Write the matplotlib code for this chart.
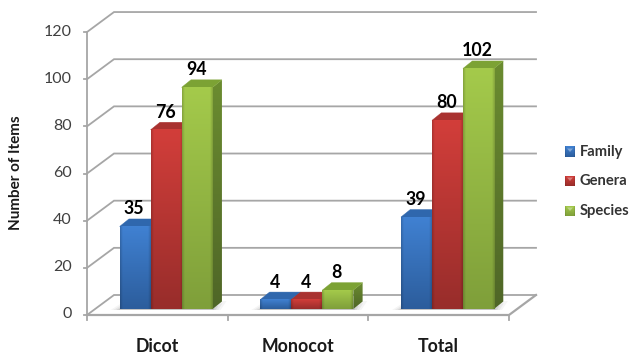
import numpy as np
import matplotlib
matplotlib.use('Agg')
import matplotlib.pyplot as plt
from matplotlib.patches import Polygon

# Chart data
categories = ['Dicot', 'Monocot', 'Total']
family = [35, 4, 39]
genera = [76, 4, 80]
species = [94, 8, 102]
y_ticks = [0, 20, 40, 60, 80, 100, 120]

series_names = ['Family', 'Genera', 'Species']
series_values = [family, genera, species]

# top colour, bottom colour, roof colour, side top, side bottom
colors = {
    'Family': ('#4081d2', '#2c5d9c', '#2f67ad', '#2b5d9c', '#234a7c'),
    'Genera': ('#d23e3a', '#982d2b', '#a93230', '#8f2a28', '#742321'),
    'Species': ('#a4ca4b', '#7f9f3a', '#7ca234', '#6b8c30', '#4f6627'),
}

W, H = 631, 355
plt.rcParams['font.family'] = ['Lato', 'DejaVu Sans']

fig = plt.figure(figsize=(W / 100, H / 100), dpi=100)
ax = fig.add_axes([0, 0, 1, 1])

# one category = 140.67 px, one y unit = 2.358 px
px_x = 1 / 140.67
px_y = 1 / 2.358
x0_px, y0_px = 87, 315
ax.set_xlim(-x0_px * px_x, (W - x0_px) * px_x)
ax.set_ylim(-(H - y0_px) * px_y, y0_px * px_y)
ax.axis('off')

# 3d offsets
wall_dx, wall_dy = 27 * px_x, 20 * px_y
bar_dx, bar_dy = 9.3 * px_x, 7.5 * px_y
base = 6 * px_y
bar_w = 31 * px_x
group_pad = 0.232
n_cat = len(categories)

grid_c = '#a6a6a6'
lw = 1.3

# walls: diagonal on the left plus the horizontal on the back
for t in y_ticks:
    ax.plot([0, wall_dx, n_cat + wall_dx], [t, t + wall_dy, t + wall_dy],
            color=grid_c, lw=lw, zorder=1, solid_joinstyle='miter')
    ax.plot([-3 * px_x, 0], [t, t], color=grid_c, lw=lw, zorder=1)
    ax.text(-15 * px_x, t + 0.5 * px_y, str(t), ha='right', va='center', fontsize=11.5,
            color='#404040')

# floor and front axis
ax.plot([0, 0], [0, y_ticks[-1]], color=grid_c, lw=lw, zorder=1)
ax.plot([0, n_cat, n_cat + wall_dx], [0, 0, wall_dy], color=grid_c, lw=1.6, zorder=1)
for i in range(n_cat + 1):
    ax.plot([i, i], [0, -5 * px_y], color=grid_c, lw=lw, zorder=1)


def gradient_face(left, right, bottom, top, c_top, c_bot, z):
    # vertical fade with a soft dark edge on both sides
    c1 = np.array(matplotlib.colors.to_rgb(c_top))
    c2 = np.array(matplotlib.colors.to_rgb(c_bot))
    t = np.linspace(0, 1, 64)[:, None, None]
    xs = np.linspace(0, 1, 32)[None, :, None]
    edge = 1 - 0.16 * np.clip(1 - xs / 0.08, 0, 1) - 0.16 * np.clip((xs - 0.92) / 0.08, 0, 1)
    img = (c1 * (1 - t) + c2 * t) * edge
    ax.imshow(np.clip(img, 0, 1), extent=(left, right, bottom, top), aspect='auto',
              origin='upper', zorder=z, interpolation='bilinear')


def draw_bar(left, value, name, z):
    c_top, c_bot, c_roof, s_top, s_bot = colors[name]
    right = left + bar_w
    bottom = base
    top = base + value
    # side face, shaded from top to bottom
    side = Polygon([(right, bottom), (right + bar_dx, bottom + bar_dy),
                    (right + bar_dx, top + bar_dy), (right, top)],
                   closed=True, fc='none', ec='none', zorder=z)
    ax.add_patch(side)
    c1 = np.array(matplotlib.colors.to_rgb(s_top))
    c2 = np.array(matplotlib.colors.to_rgb(s_bot))
    t = np.linspace(0, 1, 64)[:, None, None]
    im = ax.imshow(c1 * (1 - t) + c2 * t, extent=(right, right + bar_dx, bottom, top + bar_dy),
                   aspect='auto', origin='upper', zorder=z, interpolation='bilinear')
    im.set_clip_path(side)
    # roof
    ax.add_patch(Polygon([(left, top), (left + bar_dx, top + bar_dy),
                          (right + bar_dx, top + bar_dy), (right, top)],
                         closed=True, fc=c_roof, ec=c_roof, lw=0.3, zorder=z))
    gradient_face(left, right, bottom, top, c_top, c_bot, z + 0.1)


# soft shadows on the floor, under each group
for i in range(n_cat):
    left = i + group_pad
    right = left + 3 * bar_w
    for grow, alpha in [(1.0, 0.05), (0.7, 0.07), (0.4, 0.10), (0.15, 0.12)]:
        ax.add_patch(Polygon([(left - 9 * grow * px_x, base - 1 * px_y),
                              (left + 2 * px_x, base + 6 * grow * px_y),
                              (right + 14 * grow * px_x, base + 8 * grow * px_y),
                              (right + 8 * grow * px_x, base - 1 * px_y)],
                             closed=True, fc='#404040', ec='none', alpha=alpha, zorder=2))

# bars and value labels
for s, name in enumerate(series_names):
    for i, v in enumerate(series_values[s]):
        left = i + group_pad + s * bar_w
        draw_bar(left, v, name, 3 + s)
        ax.text(left + bar_w / 2 - 1 * px_x, base + v + 17.5 * px_y, str(v), ha='center',
                va='center', fontsize=12.8, fontweight='bold', color='black', zorder=8)

# category labels
for i, c in enumerate(categories):
    ax.text(i + 0.5, -31 * px_y, c, ha='center', va='center', fontsize=12.8,
            fontweight='bold', color='#1a1a1a')

ax.text(-71 * px_x, 60 + 1 * px_y, 'Number of Items', rotation=90, ha='center', va='center',
        fontsize=11, fontweight='bold', color='#1a1a1a')

# legend keys
key_x = (565 - x0_px) * px_x
key_w, key_h = 10 * px_x, 10 * px_y
for name, py in zip(series_names, [152, 181, 211]):
    yc = (y0_px - py) * px_y
    c_top, c_bot = colors[name][:2]
    gradient_face(key_x, key_x + key_w, yc - key_h / 2, yc + key_h / 2, c_top, c_bot, 3)
    ax.add_patch(Polygon([(key_x + 2 * px_x, yc + 3.5 * px_y), (key_x + 8 * px_x, yc + 3.5 * px_y),
                          (key_x + 5 * px_x, yc)], closed=True, fc='white', ec='none',
                         alpha=0.35, zorder=4))
    ax.text((580 - x0_px) * px_x, yc, name, ha='left', va='center', fontsize=10.6,
            fontweight='bold', color='#333333')

ax.set_xlim(-x0_px * px_x, (W - x0_px) * px_x)
ax.set_ylim(-(H - y0_px) * px_y, y0_px * px_y)

fig.savefig('out.png', dpi=100)
